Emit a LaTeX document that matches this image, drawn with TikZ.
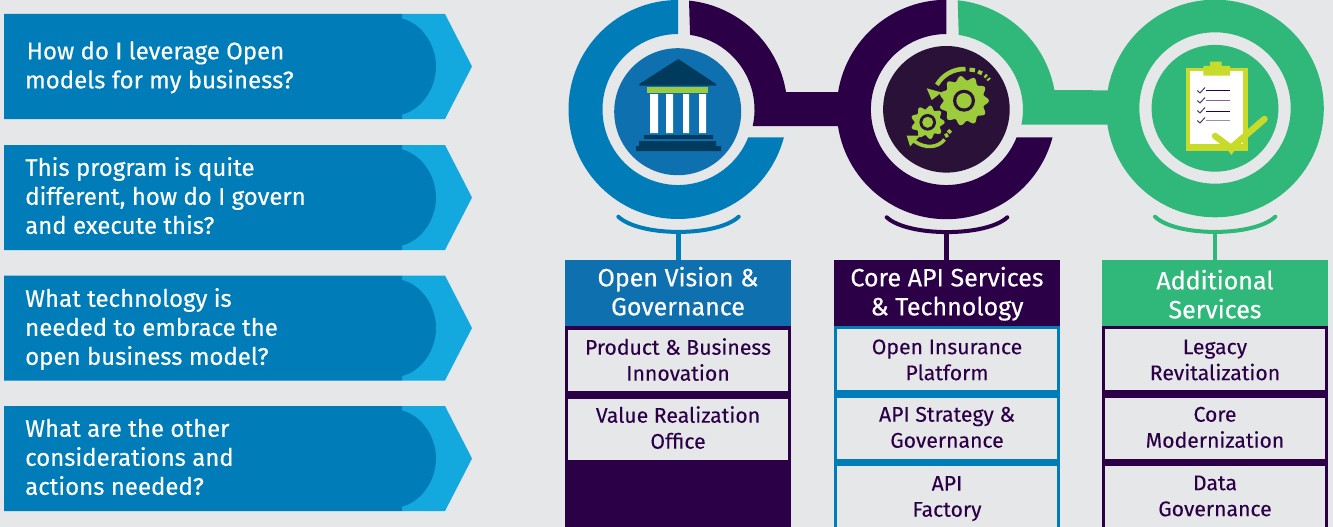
\documentclass[tikz,border=0pt]{standalone}
\usepackage{fontspec}
\setmainfont{Fira Sans}
\definecolor{bgc}{HTML}{E6E7E9}
\definecolor{blu}{HTML}{007DB8}
\definecolor{lblu}{HTML}{13A8DE}
\definecolor{hblu}{HTML}{0F70B0}
\definecolor{pur}{HTML}{2C0047}
\definecolor{grn}{HTML}{30B87A}
\definecolor{dsc}{HTML}{2A1138}
\definecolor{gearlime}{HTML}{9CCB3B}
\definecolor{cliplime}{HTML}{C8DB2A}
\definecolor{bank}{HTML}{003A5C}
\tikzset{
 qtext/.style={anchor=west,align=left,text=white,inner sep=0pt,font=\fontsize{24}{29}\selectfont\addfontfeature{FakeBold=0.4}},
 headbox/.style={minimum width=226pt,minimum height=66pt,inner sep=0pt,align=center,text=white,font=\fontsize{25}{29}\selectfont\addfontfeature{FakeBold=0.4}},
 itembox/.style={minimum width=220pt,minimum height=61pt,inner sep=0pt,align=center,fill=bgc,text=pur,font=\fontsize{21.2}{26}\selectfont\addfontfeature{FakeBold=0.1}},
 stand/.style={line width=4pt,line cap=round},
 stem/.style={line width=4.8pt}
}
\newcommand{\lineat}[2]{\strut\smash{\raisebox{#1}{#2}}}
\newcommand{\chev}[1]{%
 \begin{scope}[shift={(0,#1)}]
  \fill[lblu] (402,0) -- (445,0) -- (472,52.5) -- (445,105) -- (402,105) -- cycle;
  \fill[blu] (4,0) -- (402,0) -- (402,4.5) .. controls (421,9) and (436,30) .. (436,52.5) .. controls (436,75) and (421,96) .. (402,100.5) -- (402,105) -- (4,105) -- cycle;
 \end{scope}}
\begin{document}
\begin{tikzpicture}[x=1pt,y=1pt,yscale=-1]
\clip (0,0) rectangle (1333,527);
\fill[bgc] (0,0) rectangle (1333,527);
\useasboundingbox (0,0) rectangle (1333,527);
% chevrons
\chev{14}\chev{145}\chev{275.5}\chev{406}
\node[qtext] (q1) at (25,68) {\strut\hspace{1.5pt}How do I leverage Open\\\strut models for my business?};
\node[qtext] (q2) at (25,199) {\strut This program is quite\\\strut different, how do I govern\\\strut and execute this?};
\node[qtext] (q3) at (25,330) {\strut What technology is\\\strut needed to embrace the\\\strut open business model?};
\node[qtext] (q4) at (25,460) {\strut What are the other\\\strut considerations and\\\strut actions needed?};
% rings
\fill[blu] (678,0) arc[start angle=-90,end angle=-345.3,radius=109.5pt]
  -- (748.2,137.3) arc[start angle=-338.4,end angle=-90,radius=75.5pt] -- cycle;
\fill[pur] (689,0.6) arc[start angle=-84.2,end angle=-9.2,radius=109.5pt] -- (850,92) -- (850,126) -- (752.7,126)
  arc[start angle=12.6,end angle=-81.6,radius=75.5pt] -- cycle;
\fill[pur] (946.4,-0.2) arc[start angle=-90,end angle=-345.3,radius=109.7pt]
  -- (1016.6,137.3) arc[start angle=-338.4,end angle=-90,radius=75.5pt] -- cycle;
\fill[grn] (957.7,0.3) arc[start angle=-84.1,end angle=-10.1,radius=109.7pt] -- (1120,90.3) -- (1120,124.7) -- (1021.4,124.7)
  arc[start angle=11.6,end angle=-81.4,radius=75.5pt] -- cycle;
\fill[grn,even odd rule] (1215,108.5) circle[radius=108.8pt] (1215,108) circle[radius=75.7pt];
% discs
\fill[hblu] (677.7,111.7) circle[radius=63.5pt];
\fill[dsc] (946.4,109.3) circle[radius=63.3pt];
\fill[grn] (1215,108.3) circle[radius=63.4pt];
% bank icon
\fill[bank] (678.3,59) -- (716,84) -- (716,85.5) -- (639.3,85.5) -- (639.3,84) -- cycle;
\fill[gearlime] (647,87) rectangle (708,93);
\fill[white] (650,94) rectangle (658,133) (666,94) rectangle (673,133) (683,94) rectangle (689,133) (699,94) rectangle (706,133);
\fill[bank] (644,135) rectangle (713,139) (639,141) rectangle (716,146) (636,146) rectangle (721,151);
% gears
\fill[gearlime] plot[domain=0:360,samples=180,smooth] ({964+(22.6+2.2*cos(11*\x))*cos(\x)},{100.7+(22.6+2.2*cos(11*\x))*sin(\x)}) -- cycle;
\fill[dsc] (964,100.7) circle[radius=11pt];
\fill[gearlime] (964,100.7) circle[radius=7.7pt];
\fill[gearlime] plot[domain=0:360,samples=150,smooth] ({927.7+(15+1.9*cos(9*\x))*cos(\x)},{122.3+(15+1.9*cos(9*\x))*sin(\x)}) -- cycle;
\fill[dsc] (927.7,122.3) circle[radius=8.3pt];
\fill[gearlime] (927.7,122.3) circle[radius=5.5pt];
\draw[gearlime,line width=4.5pt] (965.5,69) arc[start angle=-88,end angle=-150,radius=31.7pt];
\fill[gearlime] (926.7,88.3) -- (941.7,92.5) -- (931.7,100) -- cycle;
\draw[gearlime,line width=4pt] (969.5,69.6) -- (975,70.3) (978,71.6) -- (982,73.4) (984.8,75.3) -- (986.6,76.8) (988,78.5) -- (989.2,80);
\draw[gearlime,line width=3.6pt] (944.5,139.5) .. controls (938,148) and (925,149) .. (914,141);
\fill[gearlime] (906.7,135.7) -- (920.5,135.5) -- (910,146.3) -- cycle;
\draw[gearlime,line width=4pt] (945,136.2) -- (948,134.6) (948.3,132.8) -- (950.6,130.2);
% clipboard
\fill[cliplime] (1186,68) rectangle (1248,150.5);
\fill[white] (1189.7,71) rectangle (1243.3,143.5);
\fill[cliplime] (1203.3,66) rectangle (1230,75.7) (1210,61.7) rectangle (1221.7,66);
\draw[pur,line width=1pt] (1206,90.7) -- (1230,90.7) (1206,111) -- (1230,111);
\draw[pur!60!white,line width=1.3pt] (1206,100.7) -- (1230,100.7);
\draw[pur!45!white,line width=1.3pt] (1206,120.7) -- (1230,120.7);
\draw[pur!80!white,line width=1pt] (1197.3,90.5) -- (1200,93) -- (1205,87.5) (1197.3,100.5) -- (1200,103) -- (1205,97.5) (1197.3,110.5) -- (1200,113) -- (1205,107.5) (1197.3,120.5) -- (1200,123) -- (1205,117.5);
\draw[cliplime,line width=6.5pt,line cap=round,line join=miter] (1215,136) -- (1231,148) -- (1264.5,119);
\fill[cliplime] (1226,148) -- (1236,148) -- (1231.5,155) -- cycle;
% column bodies
\fill[pur] (565,326) rectangle (791,527);
\fill[blu] (834,326) rectangle (1060,527);
\fill[pur] (1102,326) rectangle (1328,527);
% headers
\node[headbox,fill=hblu] (h1) at (678,293) {\lineat{-2pt}{Open Vision \&}\\\lineat{-2pt}{Governance}};
\node[headbox,fill=pur] (h2) at (947,293) {\lineat{-2pt}{Core API Services}\\\lineat{-2pt}{\& Technology}};
\node[headbox,fill=grn] (h3) at (1215,293) {\lineat{-5pt}{Additional}\\\lineat{-5pt}{Services}};
% items
\node[itembox] (a1) at (678,360.5) {\lineat{-2pt}{Product \& Business}\\\lineat{-2pt}{Innovation}};
\node[itembox] (a2) at (678,429.5) {\lineat{-1pt}{Value Realization}\\\lineat{-1pt}{Office}};
\node[itembox] (b1) at (947,359.5) {\lineat{-2.5pt}{Open Insurance}\\\lineat{-2.5pt}{Platform}};
\node[itembox] (b2) at (947,428.5) {\lineat{-1pt}{API Strategy \&}\\\lineat{-1pt}{Governance}};
\node[itembox] (b3) at (947,496.5) {\lineat{-2pt}{API}\\\lineat{-2pt}{Factory}};
\node[itembox] (c1) at (1215,359.5) {\lineat{-2.5pt}{Legacy}\\\lineat{-2.5pt}{Revitalization}};
\node[itembox] (c2) at (1215,428.5) {\lineat{-1pt}{Core}\\\lineat{-1pt}{Modernization}};
\node[itembox] (c3) at (1215,496.5) {\lineat{-1.5pt}{Data}\\\lineat{-1.5pt}{Governance}};
% stands
\coordinate (s1) at (678.3,230);
\coordinate (s2) at (946.4,230);
\coordinate (s3) at (1215,230);
\draw[stand,blu] (618.3,216.7) .. controls (640,237) and (717,237) .. (738.7,216.7);
\draw[stand,pur] (886.7,217.3) .. controls (908,237) and (986,237) .. (1007.3,217.3);
\draw[stand,grn] (1155,216.7) .. controls (1176,237) and (1254,237) .. (1275.3,216.7);
\draw[stem,blu] (s1) -- (s1 |- h1.north);
\draw[stem,pur] (s2) -- (s2 |- h2.north);
\draw[stem,grn] (s3) -- (s3 |- h3.north);
\end{tikzpicture}
\end{document}
